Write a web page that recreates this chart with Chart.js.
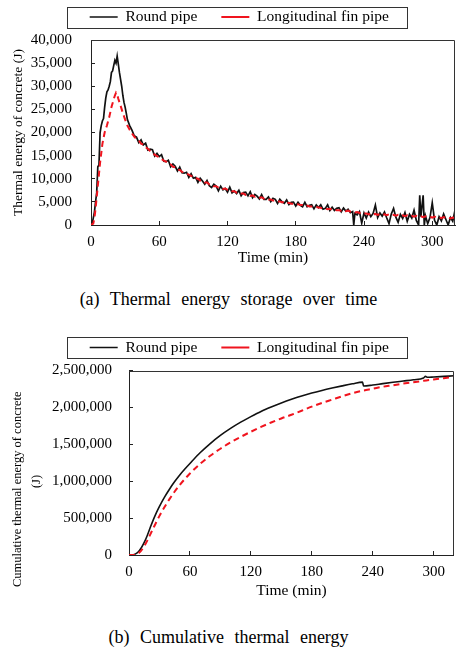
<!DOCTYPE html>
<html><head><meta charset="utf-8">
<script src="https://cdn.jsdelivr.net/npm/chart.js@4.4.1/dist/chart.umd.min.js"></script>
<style>
html,body{margin:0;padding:0;background:#fff;width:457px;height:647px;overflow:hidden;position:relative}
canvas{position:absolute;left:0}
#c1{top:-15px}
#c2{top:315px}
.cap{position:absolute;left:0;width:457px;text-align:center;font-family:"Liberation Serif","Times New Roman",serif;font-size:18px;line-height:22px;color:#000;word-spacing:6px;white-space:nowrap}
</style></head>
<body>
<canvas id="c1" width="457" height="290"></canvas>
<div class="cap" style="top:288px">(a) Thermal energy storage over time</div>
<canvas id="c2" width="457" height="295"></canvas>
<div class="cap" style="top:626px">(b) Cumulative thermal energy</div>
<script>
// ---------- (a) thermal energy (J) vs time (min) ----------
const roundTimes = [0,1,2,3,4,5,6,7,8,9,10,11,12,13,14,15,16,17,18,19,20,21,22,23,24,25,26,27,28,29,30,31,32,34,36,38,40,
42,44,46,48,50,52,54,56,58,60,62,64,66,68,70,72,74,76,78,80,82,84,86,88,90,92,94,96,98,100,
102,104,106,108,110,112,114,116,118,120,122,124,126,128,130,132,134,136,138,140,142,144,146,148,150,152,154,156,158,160,
162,164,166,168,170,172,174,176,178,180,182,184,186,188,190,192,194,196,198,200,202,204,206,208,210,212,214,216,218,220,
222,224,226,228,230,231,232,234,236,238,240,242,244,246,248,250,252,254,256,258,260,262,264,266,268,270,
272,274,276,278,280,282,284,286,288,289,290,292,293,294,296,298,300,302,304,306,308,310,312,314,316,318,320];
const roundEnergy = [0,300,1500,2800,5000,7000,12600,13000,20000,21500,22500,23000,25500,27500,28800,29200,30000,31000,33000,33300,34500,35600,35000,36500,34800,33000,31500,30000,28000,26500,25500,24200,22800,21500,20500,19300,19000,
17800,18400,17300,17700,16200,16400,16300,14900,15500,14800,15200,13800,13700,14000,12600,13200,12700,11700,12500,11300,11200,11400,10300,11100,10100,10300,9200,10100,9500,8800,
9600,8500,8100,8800,8400,7400,8400,7600,7900,7100,8200,6950,7350,6800,7500,6300,7000,7100,6300,7200,5900,6600,6250,5650,6550,5550,5550,6050,5050,5750,
5550,4650,5550,5000,4700,5400,4400,4900,4950,4100,4900,4250,3950,4900,3950,4250,4400,3500,4350,3750,4350,3400,3600,4350,3150,3850,3150,3600,3750,2850,
3650,3000,3400,2650,2900,0,2500,2200,2900,400,2600,1500,2800,1800,2500,4300,1600,2600,1900,2800,1500,300,2400,3600,1700,600,
2300,1400,2700,800,2300,1500,3200,1000,0,6400,1800,6400,0,2000,300,1600,4800,1000,0,1800,900,2400,1200,0,1600,800,3200];
const finTimes = [0,2,3,4,5,6,7,8,9,10,11,12,13,14,16,18,20,21,22,23,24,26,28,30,32,34,36,38,40,
42,44,46,48,50,52,54,56,58,60,62,64,66,68,70,72,74,76,78,80,82,84,86,88,90,92,94,96,98,100,
102,104,106,108,110,112,114,116,118,120,122,124,126,128,130,132,134,136,138,140,142,144,146,148,150,152,154,156,158,160,
162,164,166,168,170,172,174,176,178,180,182,184,186,188,190,192,194,196,198,200,202,204,206,208,210,212,214,216,218,220,
222,224,226,228,230,232,234,236,238,240,242,244,246,248,250,252,254,256,258,260,262,264,266,268,270,272,274,276,278,280,
282,284,286,288,290,292,294,296,298,300,302,304,306,308,310,312,314,316,318,320];
const finEnergy = [0,300,1500,3500,6000,8500,11000,13500,15500,17500,18800,20000,20800,21500,23300,25500,27200,28000,28600,28200,27300,25800,24200,22800,21500,20600,19800,19100,18600,
18300,17600,17400,16800,16500,16000,15700,15200,14900,14600,14300,13900,13700,13200,13100,12600,12500,12000,11900,11500,11300,11100,10900,10600,10500,10100,10000,9600,9600,9200,
9200,8800,8800,8400,8400,8100,8100,7800,7900,7600,7600,7300,7300,7000,7100,6800,6800,6500,6600,6300,6400,6100,6200,5900,6000,5700,5700,5500,5500,5300,
5300,5100,5100,4900,5000,4700,4800,4600,4600,4400,4500,4300,4300,4100,4200,4000,4000,3900,3900,3800,3700,3500,3600,3400,3500,3300,3300,3200,3200,3100,
3200,3000,3100,2900,2900,2700,2800,2600,2700,2500,2500,2300,2500,2300,2400,2200,2400,2200,2300,2100,2300,2100,2200,2000,2200,2000,2100,1900,2100,1900,
2000,1800,2000,1800,1900,1700,1900,1700,1800,1600,1800,1600,1700,1500,1700,1500,1600,1400,1600,1500];

// ---------- (b) cumulative thermal energy (J) vs time (min) ----------
const cumRoundTimes = [0,3,6,9,12,15,18,21,24,27,30,35,40,45,50,55,60,70,80,90,100,110,120,130,140,150,160,170,180,190,200,210,220,230,231,240,250,260,270,280,290,292,294,300,310,320];
const cumRoundEnergy = [0,0,12000,40000,95000,170000,265000,375000,480000,575000,660000,785000,895000,995000,1085000,1165000,1240000,1385000,1510000,1620000,1715000,1800000,1875000,1945000,2005000,2060000,2110000,2155000,2195000,2230000,2262000,2292000,2320000,2343000,2290000,2303000,2322000,2340000,2357000,2374000,2398000,2420000,2408000,2412000,2420000,2428000];
const cumFinTimes = [0,3,6,9,12,15,18,21,24,27,30,35,40,45,50,55,60,70,80,90,100,110,120,130,140,150,160,170,180,190,200,210,220,230,240,250,260,270,280,290,300,310,320];
const cumFinEnergy = [0,0,5000,22000,60000,120000,195000,280000,365000,450000,530000,650000,760000,860000,950000,1030000,1105000,1235000,1345000,1440000,1525000,1600000,1670000,1735000,1795000,1850000,1900000,1955000,2010000,2060000,2105000,2150000,2192000,2225000,2252000,2280000,2300000,2322000,2342000,2360000,2378000,2396000,2412000];

const seriesNames = ['Round pipe', 'Longitudinal fin pipe'];
const xTicksStep = 60, xMax = 320;

const SERIF = '"Liberation Serif","Times New Roman",serif';
Chart.defaults.font.family = SERIF;
Chart.defaults.color = '#000';

const legendFrame = {
  id: 'legendFrame',
  afterDraw(chart) {
    const lg = chart.legend;
    if (!lg || !lg.legendHitBoxes || !lg.legendHitBoxes.length) return;
    const hb = lg.legendHitBoxes, f = hb[0], l = hb[hb.length - 1];
    const cy = f.top + f.height / 2;
    const x0 = Math.round(f.left - 23) + 0.5, x1 = Math.round(l.left + l.width + 18) + 0.5;
    const y0 = Math.round(cy - 10.5) + 0.5, y1 = y0 + 21;
    const ctx = chart.ctx;
    ctx.save(); ctx.strokeStyle = '#333'; ctx.lineWidth = 1; ctx.setLineDash([]);
    ctx.strokeRect(x0, y0, x1 - x0, y1 - y0);
    ctx.restore();
  }
};
const plotFrame = {
  id: 'plotFrame',
  afterDatasetsDraw(chart) {
    const a = chart.chartArea, ctx = chart.ctx;
    ctx.save(); ctx.strokeStyle = '#333'; ctx.lineWidth = 1; ctx.setLineDash([]);
    ctx.beginPath();
    ctx.moveTo(Math.round(a.left), Math.round(a.top) + 0.5);
    ctx.lineTo(Math.round(a.right) - 0.5, Math.round(a.top) + 0.5);
    ctx.lineTo(Math.round(a.right) - 0.5, Math.round(a.bottom));
    ctx.stroke();
    ctx.restore();
  }
};

function pairs(ts, vs) { return ts.map((t, i) => ({x: t, y: vs[i]})); }

function makeChart(id, cfg) {
  const gridOpts = {display: true, drawOnChartArea: false, drawTicks: true, tickLength: -4, color: '#222', lineWidth: 1};
  const borderOpts = {display: true, color: '#222', width: 1};
  return new Chart(document.getElementById(id), {
    type: 'line',
    data: {
      datasets: [
        {label: seriesNames[0], data: cfg.d1, order: 1, borderColor: '#111', backgroundColor: '#111', borderWidth: cfg.bw, pointRadius: 0, tension: 0, cubicInterpolationMode: cfg.mono ? 'monotone' : 'default', fill: false},
        {label: seriesNames[1], data: cfg.d2, order: 0, borderColor: '#f0141e', backgroundColor: '#f0141e', borderWidth: 2, borderDash: [6, 4], pointRadius: 0, tension: 0, cubicInterpolationMode: cfg.mono ? 'monotone' : 'default', fill: false}
      ]
    },
    options: {
      responsive: false, animation: false, devicePixelRatio: 1,
      layout: {padding: {left: 23.5, right: 2, top: cfg.padTop, bottom: 0}},
      plugins: {
        legend: {display: true, position: 'top', labels: {usePointStyle: true, pointStyle: 'line', pointStyleWidth: 28, boxWidth: 28, padding: 24, color: '#000', font: {family: SERIF, size: 15.5}, sort: (a, b) => a.datasetIndex - b.datasetIndex}},
        subtitle: {display: true, text: '', weight: 500, position: 'top', padding: {top: 0, bottom: 4.25}, font: {size: 1, lineHeight: 1}},
        title: {display: false},
        tooltip: {enabled: false}
      },
      scales: {
        x: {
          type: 'linear', min: 0, max: xMax,
          ticks: {stepSize: xTicksStep, includeBounds: false, padding: 12, color: '#000', font: {size: 15}, maxRotation: 0, autoSkip: false},
          grid: gridOpts, border: borderOpts,
          title: {display: true, text: 'Time (min)', color: '#000', font: {size: 15.5}, padding: {top: 0, bottom: cfg.xtPad}},
          afterFit(s) { s.height = cfg.xH; }
        },
        y: {
          type: 'linear', min: 0, max: cfg.yMax,
          ticks: {stepSize: cfg.yStep, padding: cfg.yPad, color: '#000', font: {size: 15}, callback: v => Number(v).toLocaleString('en-US')},
          grid: gridOpts, border: borderOpts,
          title: {display: true, text: cfg.yTitle, color: '#000', font: {size: cfg.ytSize, lineHeight: cfg.ytLH}, padding: {top: cfg.ytPad, bottom: 0}},
          afterFit(s) { s.width = cfg.yW; }
        }
      }
    },
    plugins: [legendFrame, plotFrame]
  });
}

makeChart('c1', {
  d1: pairs(roundTimes, roundEnergy), d2: pairs(finTimes, finEnergy), mono: false, bw: 1.7,
  padTop: 0.25, xH: 50, xtPad: 7.7, yMax: 40000, yStep: 5000, yPad: 23, yW: 67.5,
  yTitle: 'Thermal energy of concrete (J)', ytSize: 13.5, ytLH: 1.2, ytPad: -13.6
});
makeChart('c2', {
  d1: pairs(cumRoundTimes, cumRoundEnergy), d2: pairs(cumFinTimes, cumFinEnergy), mono: true, bw: 1.6,
  padTop: 0.75, xH: 55, xtPad: 9.7, yMax: 2500000, yStep: 500000, yPad: 21, yW: 105.5,
  yTitle: ['Cumulative thermal energy of concrete                 ', '(J)            '], ytSize: 12.5, ytLH: 1.5, ytPad: -14.9
});
</script>
</body></html>
